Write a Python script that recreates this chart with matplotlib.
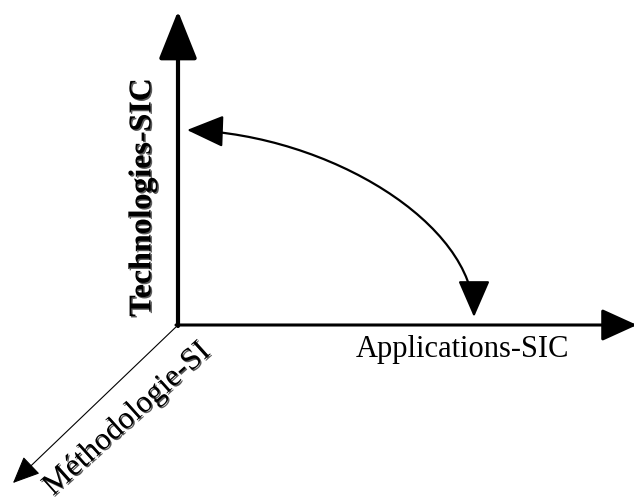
import matplotlib
matplotlib.use("Agg")
import matplotlib.pyplot as plt
import matplotlib.patheffects as pe
from matplotlib.patches import FancyArrowPatch
from matplotlib.path import Path

# diagram geometry in pixel units (origin top-left)
origin = (178, 326)
tech_tip = (178, 12)
app_tip = (637, 326)
meth_tip = (13, 484)
curve_pts = [(187, 131), (330, 136), (474, 225), (474, 318)]

labels = ["Technologies-SIC", "Applications-SIC", "Méthodologie-SI"]

fig = plt.figure(figsize=(6.34, 5.02), dpi=100)
ax = fig.add_axes([0, 0, 1, 1])
ax.set_xlim(0, 634)
ax.set_ylim(502, 0)
ax.axis("off")


def arrow(p0, p1, lw, hl, hw):
    a = FancyArrowPatch(p0, p1, arrowstyle="-|>,head_length=%g,head_width=%g" % (hl, hw),
                        lw=lw, color="black", shrinkA=0, shrinkB=0, mutation_scale=1)
    ax.add_patch(a)


arrow((origin[0], origin[1] + 1), tech_tip, 3.0, 30, 12)
arrow((origin[0] - 2, origin[1]), app_tip, 2.2, 22, 10)
arrow(origin, meth_tip, 0.8, 17, 7.5)

# curved double arrow between the two axes
codes = [Path.MOVETO, Path.CURVE4, Path.CURVE4, Path.CURVE4]
curve = FancyArrowPatch(path=Path(curve_pts, codes),
                        arrowstyle="<|-|>,head_length=23,head_width=10",
                        lw=1.6, color="black", mutation_scale=1)
ax.add_patch(curve)

shadow = [pe.withSimplePatchShadow(offset=(1, -1), shadow_rgbFace="0.35", alpha=1)]

ax.text(143, 198, labels[0], rotation=90, ha="center", va="center",
        family="Liberation Serif", weight="bold", fontsize=23, path_effects=shadow)
ax.text(462, 357, labels[1], ha="center", va="baseline",
        family="Liberation Serif", fontsize=22)
ax.text(127, 420, labels[2], rotation=42, rotation_mode="anchor", ha="center", va="center",
        family="Liberation Serif", fontsize=22.5, path_effects=shadow)

fig.savefig("out.png", dpi=100)
